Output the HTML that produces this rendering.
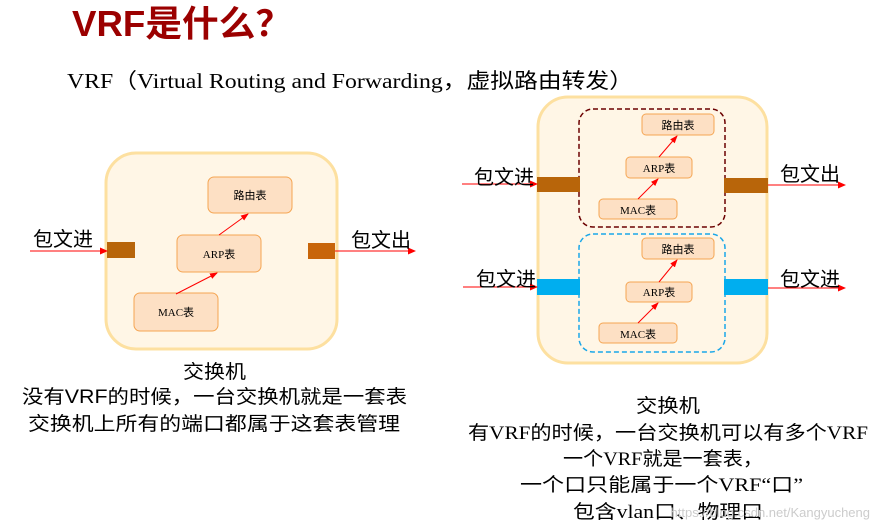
<!DOCTYPE html>
<html><head><meta charset="utf-8"><style>
html,body{margin:0;padding:0;background:#fff;}
svg{display:block}
.cj{font-family:"Liberation Serif","Noto Sans CJK SC",serif;}
.ss{font-family:"Liberation Sans","Noto Sans CJK SC",sans-serif;}
</style></head><body>
<svg width="878" height="530" viewBox="0 0 878 530" xmlns="http://www.w3.org/2000/svg">
<defs>
<marker id="a" markerWidth="8" markerHeight="8" refX="7" refY="4" orient="auto" markerUnits="userSpaceOnUse"><path d="M0,0.5 L8,4 L0,7.5 z" fill="#f00"/></marker>
<marker id="s" markerWidth="8" markerHeight="8" refX="7" refY="4" orient="auto" markerUnits="userSpaceOnUse"><path d="M0,1 L8,4 L0,7 z" fill="#f00"/></marker>
</defs>
<text x="72" y="36" class="ss" font-size="36" font-weight="bold" fill="#9b0000" textLength="220" lengthAdjust="spacingAndGlyphs">VRF是什么？</text>
<text x="67" y="88" class="cj" font-size="21" fill="#000" textLength="566" lengthAdjust="spacingAndGlyphs">VRF（Virtual Routing and Forwarding，虚拟路由转发）</text>

<!-- left switch -->
<rect x="106" y="153" width="231" height="196" rx="30" fill="#fff6e6" stroke="#fde0a0" stroke-width="3"/>
<g class="cj" font-size="11" text-anchor="middle" fill="#000">
<rect x="208" y="177" width="84" height="36" rx="6" fill="#fde0c4" stroke="#f5a552" stroke-width="1"/>
<text x="250" y="199">路由表</text>
<rect x="177" y="235" width="84" height="37" rx="6" fill="#fde0c4" stroke="#f5a552" stroke-width="1"/>
<text x="219" y="258">ARP表</text>
<rect x="134" y="293" width="84" height="38" rx="6" fill="#fde0c4" stroke="#f5a552" stroke-width="1"/>
<text x="176" y="316">MAC表</text>
</g>
<line x1="176" y1="294" x2="217" y2="273" stroke="#f00" stroke-width="1" marker-end="url(#s)"/>
<line x1="219" y1="235" x2="248" y2="214" stroke="#f00" stroke-width="1" marker-end="url(#s)"/>
<rect x="107" y="242" width="28" height="16" fill="#b8650a"/>
<rect x="308" y="243" width="27" height="16" fill="#c8650a"/>
<line x1="30" y1="251" x2="107" y2="251" stroke="#f00" stroke-width="1" marker-end="url(#a)"/>
<line x1="335" y1="251" x2="415" y2="251" stroke="#f00" stroke-width="1" marker-end="url(#a)"/>
<g class="ss" font-size="20" fill="#000">
<text x="33" y="246">包文进</text>
<text x="351" y="247">包文出</text>
</g>
<g class="ss" font-size="19" fill="#000">
<text x="183" y="378" textLength="63" lengthAdjust="spacingAndGlyphs">交换机</text>
<text x="22" y="403" textLength="385" lengthAdjust="spacingAndGlyphs">没有VRF的时候，一台交换机就是一套表</text>
<text x="28" y="430" textLength="372" lengthAdjust="spacingAndGlyphs">交换机上所有的端口都属于这套表管理</text>
</g>

<!-- right switch -->
<rect x="538" y="97" width="229" height="266" rx="30" fill="#fff6e6" stroke="#fde0a0" stroke-width="3"/>
<rect x="579" y="109" width="146" height="118" rx="14" fill="none" stroke="#6b0000" stroke-width="1.5" stroke-dasharray="5,3"/>
<rect x="579" y="234" width="146" height="118" rx="14" fill="none" stroke="#1aa7e8" stroke-width="1.5" stroke-dasharray="5,3"/>
<g class="cj" font-size="11" text-anchor="middle" fill="#000">
<rect x="642" y="114" width="72" height="21" rx="4" fill="#fde0c4" stroke="#f5a552"/><text x="678" y="129">路由表</text>
<rect x="626" y="157" width="66" height="21" rx="4" fill="#fde0c4" stroke="#f5a552"/><text x="659" y="172">ARP表</text>
<rect x="599" y="199" width="78" height="20" rx="4" fill="#fde0c4" stroke="#f5a552"/><text x="638" y="214">MAC表</text>
<rect x="642" y="238" width="72" height="21" rx="4" fill="#fde0c4" stroke="#f5a552"/><text x="678" y="253">路由表</text>
<rect x="626" y="282" width="66" height="20" rx="4" fill="#fde0c4" stroke="#f5a552"/><text x="659" y="296">ARP表</text>
<rect x="599" y="323" width="78" height="20" rx="4" fill="#fde0c4" stroke="#f5a552"/><text x="638" y="338">MAC表</text>
</g>
<line x1="638" y1="199" x2="658" y2="179" stroke="#f00" stroke-width="1" marker-end="url(#s)"/>
<line x1="659" y1="157" x2="677" y2="136" stroke="#f00" stroke-width="1" marker-end="url(#s)"/>
<line x1="638" y1="323" x2="658" y2="303" stroke="#f00" stroke-width="1" marker-end="url(#s)"/>
<line x1="659" y1="282" x2="677" y2="260" stroke="#f00" stroke-width="1" marker-end="url(#s)"/>
<rect x="537" y="177" width="43" height="15" fill="#b8650a"/>
<rect x="724" y="178" width="44" height="15" fill="#b8650a"/>
<rect x="537" y="279" width="43" height="16" fill="#00aeef"/>
<rect x="724" y="279" width="44" height="16" fill="#00aeef"/>
<line x1="462" y1="184" x2="537" y2="184" stroke="#f00" stroke-width="1" marker-end="url(#a)"/>
<line x1="463" y1="287" x2="537" y2="287" stroke="#f00" stroke-width="1" marker-end="url(#a)"/>
<line x1="768" y1="185" x2="845" y2="185" stroke="#f00" stroke-width="1" marker-end="url(#a)"/>
<line x1="768" y1="288" x2="845" y2="288" stroke="#f00" stroke-width="1" marker-end="url(#a)"/>
<g class="ss" font-size="20" fill="#000">
<text x="474" y="184">包文进</text>
<text x="476" y="286">包文进</text>
<text x="780" y="181">包文出</text>
<text x="780" y="286">包文进</text>
</g>
<g class="cj" font-size="19" fill="#000">
<text x="636" y="412" textLength="64" lengthAdjust="spacingAndGlyphs">交换机</text>
<text x="468" y="439" textLength="400" lengthAdjust="spacingAndGlyphs">有VRF的时候，一台交换机可以有多个VRF</text>
<text x="563" y="465" textLength="200" lengthAdjust="spacingAndGlyphs">一个VRF就是一套表，</text>
<text x="520" y="491" textLength="283" lengthAdjust="spacingAndGlyphs">一个口只能属于一个VRF“口”</text>
<text x="573" y="518" textLength="190" lengthAdjust="spacingAndGlyphs">包含vlan口、物理口</text>
</g>
<text x="870" y="517" text-anchor="end" class="ss" font-size="13" fill="#ccc">https://blog.csdn.net/Kangyucheng</text>
</svg>
</body></html>
